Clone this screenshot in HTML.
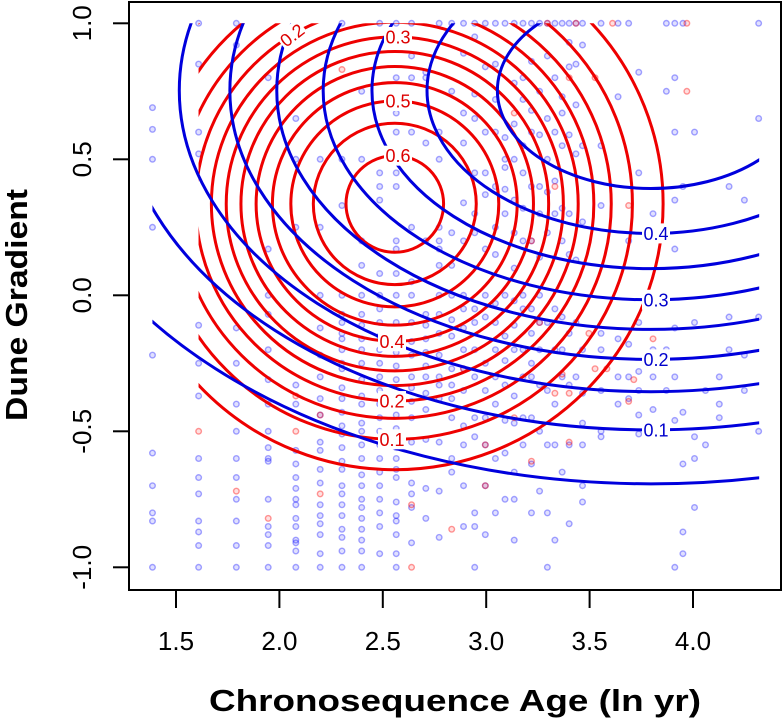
<!DOCTYPE html>
<html><head><meta charset="utf-8"><style>
html,body{margin:0;padding:0;background:#fff;}
svg{display:block;font-family:"Liberation Sans",Arial,sans-serif;}
</style></head><body>
<svg id="chart" width="783" height="720" viewBox="0 0 783 720">
<defs>
<clipPath id="clipRed"><rect id="clipRedRect"/></clipPath>
<clipPath id="clipBlue"><rect id="clipBlueRect"/></clipPath>
</defs>
<g id="points"></g>
<g id="redContours" clip-path="url(#clipRed)"></g>
<g id="blueContours" clip-path="url(#clipBlue)"></g>
<g id="labels"></g>
<g id="axes"></g>
</svg>
<script>
// ---- data ----
const xTicks = [1.5, 2.0, 2.5, 3.0, 3.5, 4.0];
const xTickLabels = ["1.5", "2.0", "2.5", "3.0", "3.5", "4.0"];
const yTicks = [-1.0, -0.5, 0.0, 0.5, 1.0];
const yTickLabels = ["-1.0", "-0.5", "0.0", "0.5", "1.0"];

// red surface: logit = b0 - qx(x-cx)^2 - qy(y-cy)^2
const redModel = [0.52, 2.058, 3.628, 2.558, 0.336]; // b0,qx,qy,cx,cy
const redLevels = [0.05, 0.1, 0.15, 0.2, 0.25, 0.3, 0.35, 0.4, 0.45, 0.5, 0.55, 0.6];
const redLabelTop = [0.3, 0.5, 0.6];
const redLabelBottom = [0.4, 0.2, 0.1];
const redXRange = [1.609, 4.32];

// blue surface
const blueModel = [-0.019, 0.330, 1.399, 3.796, 0.753];
const blueLevels = [0.05, 0.1, 0.15, 0.2, 0.25, 0.3, 0.35, 0.4, 0.45];
const blueLabelLevels = [0.4, 0.3, 0.2, 0.1];
const blueXRange = [1.386, 4.32];

// scatter points (age in yr, dune gradient)
const blueAges = [4,5,6,7,8,9,10,11,12,13,14,15,16,17,18,19,20,21,22,23,24,25,26,27,28,29,30,31,32,35,38,40,42,45,48,50,52,55,58,62,65,70,75];
const blueYs = [
 [0.69,0.61,0.5,0.25,-0.22,-0.58,-0.7,-0.8,-0.83,-1],
 [1,0.85,0.6,0.52,-0.11,-0.25,-0.37,-0.6,-0.67,-0.73,-0.83,-0.87,-0.92,-1],
 [1,0.92,-0.12,-0.25,-0.4,-0.5,-0.6,-0.67,-0.75,-0.83,-0.92,-1],
 [0.8,0.17,0,-0.07,-0.2,-0.31,-0.4,-0.5,-0.56,-0.6,-0.61,-0.75,-0.85,-0.88,-0.92,-1],
 [0.65,0.5,0.25,-0.33,-0.4,-0.57,-0.62,-0.67,-0.71,-0.75,-0.77,-0.82,-0.85,-0.9,-0.91,-0.94,-1],
 [0.5,0.25,0,-0.12,-0.22,-0.3,-0.38,-0.44,-0.54,-0.57,-0.64,-0.69,-0.77,-0.81,-0.84,-0.88,-0.95,-1],
 [1,0.5,0.33,0,-0.07,-0.1,-0.14,-0.16,-0.2,-0.25,-0.27,-0.34,-0.38,-0.43,-0.48,-0.51,-0.56,-0.61,-0.64,-0.7,-0.73,-0.77,-0.81,-0.86,-0.89,-0.94,-1],
 [0.75,0.5,0.2,0.11,0,-0.07,-0.11,-0.16,-0.2,-0.25,-0.31,-0.37,-0.4,-0.47,-0.5,-0.55,-0.6,-0.66,-0.7,-0.75,-0.78,-0.82,-0.86,-0.9,-0.94,-1],
 [1,0.45,0.4,0.35,0.08,0,-0.05,-0.1,-0.15,-0.2,-0.25,-0.3,-0.35,-0.4,-0.45,-0.5,-0.55,-0.6,-0.65,-0.7,-0.75,-0.8,-0.85,-0.95],
 [1,0.8,0.67,0.6,0.51,0.45,0.4,0.2,0.17,0.08,0,-0.1,-0.16,-0.21,-0.26,-0.31,-0.38,-0.44,-0.49,-0.56,-0.6,-0.64,-0.67,-0.76,-0.81,-0.83,-0.88,-0.95,-1],
 [1,0.88,0.8,0.6,0.25,0.05,0,-0.1,-0.17,-0.22,-0.3,-0.34,-0.39,-0.45,-0.54,-0.69,-0.73,-0.78,-0.91],
 [0.82,0.8,0.56,0.2,-0.07,-0.11,-0.16,-0.21,-0.26,-0.3,-0.36,-0.42,-0.53,-0.71,-0.82],
 [1,0.6,0.5,0.25,0.2,0.17,0.11,0,-0.07,-0.14,-0.22,-0.3,-0.33,-0.38,-0.54,-0.72,-0.89],
 [1,0.75,0.23,0.11,0,-0.09,-0.15,-0.27,-0.33,-0.38,-0.45,-0.6,-0.65],
 [1,0.89,0.67,0.56,0.34,0.2,0,-0.05,-0.12,-0.2,-0.27,-0.35,-0.48,-0.55,-0.7,-0.85],
 [1,0.95,0.74,0.65,0.45,0.3,0.23,-0.05,-0.1,-0.2,-0.3,-0.45,-0.52,-0.8,-0.85,-1],
 [1,0.84,0.6,0.45,0.37,0.17,0,-0.08,-0.25,-0.35,-0.45,-0.55,-0.7,-0.88],
 [1,0.85,0.72,0.6,0.4,0.25,0.15,-0.03,-0.1,-0.2,-0.3,-0.4,-0.6,-0.8],
 [1,0.58,0.5,0.47,0.39,0.3,0,-0.15,-0.24,-0.33,-0.46,-0.58,-0.75],
 [1,0.78,0.63,0.5,0.35,0.23,0.1,-0.02,-0.11,-0.2,-0.37,-0.47,-0.65,-0.75,-0.9],
 [1,0.8,0.72,0.55,0.45,0.32,0.2,0,-0.05,-0.2,-0.3,-0.45,-0.55],
 [1,0.86,0.68,0.6,0.4,0.2,-0.05,-0.14,-0.25,-0.3,-0.45,-0.62,-0.8],
 [1,0.75,0.59,0.4,0.3,0.14,0,-0.1,-0.2,-0.33,-0.5,-0.72],
 [1,0.88,0.65,0.5,0.38,0.23,-0.1,-0.35,-0.55,-0.8,-1],
 [1,0.8,0.6,0.42,0.3,-0.05,-0.2,-0.4,-0.55,-0.9],
 [1,0.73,0.67,0.55,0.32,0.2,-0.08,-0.2,-0.3,-0.65],
 [1,0.93,0.84,0.59,0.3,0.15,-0.14,-0.33,-0.55,-0.84],
 [1,0.85,0.7,0.52,0.13,-0.1,-0.3],
 [1,0.92,0.55,0.27,-0.2,-0.36,-0.47,-0.55,-0.7,-0.76],
 [1,0.55,0.33,-0.14,-0.2,-0.35,-0.5,-0.52],
 [1,0.73,-0.16,-0.3,-0.4],
 [1,0.2,-0.18,-0.3,-0.38],
 [0.82,0.45,-0.1,-0.28,-0.35,-0.44,-0.51],
 [0.3,0.25,-0.2,-0.3,-0.42,-0.5],
 [1,0.75,-0.2,-0.35],
 [1,0.8,0.6,0.35,0.17,-0.12,-0.3,-0.46,-1],
 [1,0.4,-0.43,-0.62,-0.95,-0.87],
 [0.6,-0.1,-0.52,-0.78,-0.6],
 [-0.35,-0.55],
 [-0.3,-0.4,-0.45],
 [0.4,-0.2,-0.08],
 [0.35,-0.22,-0.35],
 [1,0.65,-0.5,-0.08]
];
const redAges = [5,6,7,8,8,9,9,14,14,17,20,20,25,26,30,33,34,36,41,45,40,28,30,29,23,18,10,23,28,30,34,53,40,53,37,31,27,25];
const redYs = [-0.5,-0.72,-0.82,-0.37,-0.5,-0.44,-0.73,-1,-0.77,-0.86,-0.55,-0.7,-0.61,-0.1,-0.54,-0.14,-0.27,-0.27,-0.31,-0.16,-0.39,-0.36,-0.36,-0.29,-0.45,-0.27,0.83,0.67,0.4,0.8,0.8,0.75,0.33,1,1,1,1,0.2];

// ---- scales ----
const L = 129, R = 781, T = 2, B = 590;
function sx(x){ return 176 + (x - 1.5) * 206.8; }
function sy(y){ return 295.3 - y * 272; }
const NS = "http://www.w3.org/2000/svg";
function el(tag, attrs, parent){ const e = document.createElementNS(NS, tag); for (const k in attrs) e.setAttribute(k, attrs[k]); parent.appendChild(e); return e; }
function logit(p){ return Math.log(p / (1 - p)); }

// clips
const cr = document.getElementById('clipRedRect');
cr.setAttribute('x', sx(redXRange[0])); cr.setAttribute('y', sy(1)); cr.setAttribute('width', sx(redXRange[1]) - sx(redXRange[0])); cr.setAttribute('height', sy(-1) - sy(1));
const cb = document.getElementById('clipBlueRect');
cb.setAttribute('x', sx(blueXRange[0])); cb.setAttribute('y', sy(1)); cb.setAttribute('width', sx(blueXRange[1]) - sx(blueXRange[0])); cb.setAttribute('height', sy(-1) - sy(1));

// points
const gp = document.getElementById('points');
blueAges.forEach((a, i) => {
  blueYs[i].forEach(y => {
    const c = el('circle', {cx: sx(Math.log(a)), cy: sy(y), r: 2.8, fill: 'rgba(0,0,255,0.12)', stroke: 'rgba(0,0,255,0.35)', 'stroke-width': 1.4}, gp);
    
    
  });
});
redAges.forEach((a, i) => {
  const c = el('circle', {cx: sx(Math.log(a)), cy: sy(redYs[i]), r: 2.8, fill: 'rgba(255,0,0,0.12)', stroke: 'rgba(255,0,0,0.4)', 'stroke-width': 1.4}, gp);
  
  
});

// contour radii
function radii(model, lev){
  const d = model[0] - logit(lev);
  return [Math.sqrt(d / model[1]) * 206.8, Math.sqrt(d / model[2]) * 272];
}
function drawContours(model, levels, color, gid, name){
  const g = document.getElementById(gid);
  levels.forEach(lev => {
    const r = radii(model, lev);
    const e = el('ellipse', {cx: sx(model[3]), cy: sy(model[4]), rx: r[0], ry: r[1], fill: 'none', stroke: color, 'stroke-width': 3}, g);
    
    
  });
}
drawContours(redModel, redLevels, '#ee0000', 'redContours', 'red-contour');
drawContours(blueModel, blueLevels, '#0000dd', 'blueContours', 'blue-contour');

// labels
const gl = document.getElementById('labels');
function label(txt, x, y, color, rot){
  const g = el('g', {transform: 'translate(' + x + ',' + y + ') rotate(' + (rot || 0) + ')'}, gl);
  const bg = el('rect', {x: -14, y: -10, width: 28, height: 20, fill: '#fff'}, g);
  
  
  const t = el('text', {x: 0, y: 6.5, 'text-anchor': 'middle', 'font-size': 18, fill: color}, g);
  t.textContent = txt;
  
  
}
function ellipseY(model, lev, xpx, upper){
  const r = radii(model, lev);
  const dx = (xpx - sx(model[3])) / r[0];
  const dy = r[1] * Math.sqrt(Math.max(0, 1 - dx * dx));
  return upper ? sy(model[4]) - dy : sy(model[4]) + dy;
}
redLabelTop.forEach(l => label(l.toFixed(1), 398, ellipseY(redModel, l, 398, true), '#dd0000', 0));
redLabelBottom.forEach(l => label(l.toFixed(1), 392, ellipseY(redModel, l, 392, false), '#dd0000', 0));
label('0.2', 292, ellipseY(redModel, 0.2, 292, true), '#dd0000', -38);
blueLabelLevels.forEach(l => label(l.toFixed(1), 656, ellipseY(blueModel, l, 656, false), '#0000cc', 0));

// axes
const ga = document.getElementById('axes');
const box = el('rect', {x: L, y: T, width: R - L, height: B - T, fill: 'none', stroke: '#000', 'stroke-width': 2}, ga);


xTicks.forEach((v, i) => {
  const t = el('line', {x1: sx(v), x2: sx(v), y1: B, y2: B + 18, stroke: '#000', 'stroke-width': 2}, ga);
  
  
  const tx = el('text', {x: sx(v), y: 650, 'text-anchor': 'middle', 'font-size': 26}, ga);
  tx.textContent = xTickLabels[i];
  
  
});
yTicks.forEach((v, i) => {
  const t = el('line', {x1: L - 16, x2: L, y1: sy(v), y2: sy(v), stroke: '#000', 'stroke-width': 2}, ga);
  
  
  const tx = el('text', {x: 0, y: 0, 'text-anchor': 'middle', 'font-size': 26, transform: 'translate(91,' + sy(v) + ') rotate(-90)'}, ga);
  tx.textContent = yTickLabels[i];
  
  
});
const xt = el('text', {x: 455, y: 711, 'text-anchor': 'middle', 'font-size': 31, 'font-weight': 'bold', textLength: 492, lengthAdjust: 'spacingAndGlyphs'}, ga);
xt.textContent = 'Chronosequence Age (ln yr)';


const yt = el('text', {x: 0, y: 0, 'text-anchor': 'middle', 'font-size': 31, 'font-weight': 'bold', transform: 'translate(27,305) rotate(-90)', textLength: 232, lengthAdjust: 'spacingAndGlyphs'}, ga);
yt.textContent = 'Dune Gradient';


</script>
</body></html>
